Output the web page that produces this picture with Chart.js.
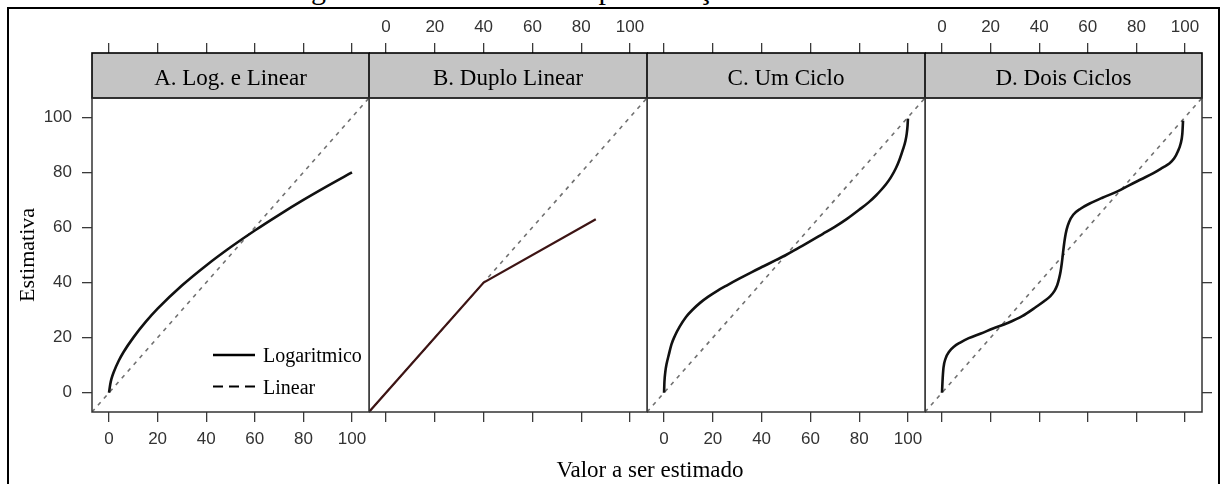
<!DOCTYPE html>
<html>
<head>
<meta charset="utf-8">
<script src="https://cdn.jsdelivr.net/npm/chart.js@4.4.1/dist/chart.umd.min.js"></script>
<style>
  html, body { margin: 0; padding: 0; background: #fff; }
  body { width: 1221px; height: 484px; position: relative; overflow: hidden; }
  .frame { position: absolute; left: 7px; top: 7px; width: 1213px; height: 500px;
           box-sizing: border-box; border: 2px solid #000; border-bottom: none; }
  .caption { position: absolute; left: 0; top: -26px; width: 1221px; text-align: center;
             font: 30px/30px "Liberation Serif", serif; color: #000; white-space: nowrap; }
  .xlab { position: absolute; left: 450px; top: 458px; width: 400px; text-align: center;
          font: 23px/23px "Liberation Serif", serif; color: #000; white-space: nowrap; }
  canvas { position: absolute; top: 12px; }
</style>
</head>
<body>
<div class="caption" id="caption"></div>
<div class="frame"></div>
<canvas id="panelA" width="369" height="472" style="left:10px"></canvas>
<canvas id="panelB" width="288" height="472" style="left:369px"></canvas>
<canvas id="panelC" width="288" height="472" style="left:647px"></canvas>
<canvas id="panelD" width="287" height="472" style="left:925px"></canvas>
<div class="xlab" id="xlab"></div>
<script>
// ---- data ----
const captionText = 'Figura 2 – Modelos de Representação das Estimativas';
const xTitle = 'Valor a ser estimado';
const yTitle = 'Estimativa';
const panelTitles = ['A. Log. e Linear', 'B. Duplo Linear', 'C. Um Ciclo', 'D. Dois Ciclos'];
const legendLabels = ['Logaritmico', 'Linear'];

const xTicks = [0, 20, 40, 60, 80, 100];
const yTicks = [0, 20, 40, 60, 80, 100];
const axisMin = -7;
const axisMax = 107;

// reference line: estimate equals true value
const identityX = [-7, 107];
const identityY = [-7, 107];

// A. logarithmic model
const logX = [0, 0.5, 1, 2, 4, 6, 10, 15, 20, 30, 40, 50, 60, 70, 80, 90, 100];
const logY = [0, 3, 5, 7.6, 11.6, 14.8, 20, 25.6, 30.5, 38.9, 46.2, 52.8, 58.9, 64.6, 70, 75.1, 80];

// B. two-segment linear model
const doubleX = [-7, 40, 86];
const doubleY = [-7, 40, 63];

// C. one-cycle model
const oneCycleX = [0, 0.15, 0.5, 1, 2, 3, 4.5, 6.4, 9, 12, 15, 18, 22, 26, 31, 36, 41, 46, 50,
                   55, 60, 65, 70, 75, 80, 84, 87, 89, 91, 93, 95, 96.5, 98, 99, 99.5, 99.85, 100];
const oneCycleY = [0, 4, 7.5, 10.3, 14, 17.5, 20.8, 24, 27.5, 30.4, 32.8, 34.8, 37.1, 39.1, 41.5, 43.8, 46, 48.2, 50,
                   52.5, 55, 57.6, 60.2, 63.1, 66.4, 69.2, 71.7, 73.6, 75.7, 78.2, 81.4, 84.5, 88.4, 91.5, 94, 97, 99.5];

// D. two-cycle model
const twoCycleX = [0, 0.2, 0.6, 1.5, 3, 5, 7.5, 11, 16, 21, 27, 33, 38.8, 42, 44.5, 46.3, 47.4, 48.2, 48.8, 49.3, 49.7,
                   50.1, 50.6, 51.3, 52.3, 54, 57, 60.6, 66, 72, 77, 82, 87, 91, 93.4, 95.5, 97, 98.2, 98.9, 99.2];
const twoCycleY = [0, 4, 9, 12.5, 15, 16.8, 18.2, 19.8, 21.5, 23.3, 25.3, 27.8, 31.2, 33.2, 35, 37, 39, 41.5, 44, 47, 50,
                   53, 56.2, 59.3, 62, 64.6, 66.8, 68.6, 70.8, 73, 75.3, 77.5, 79.7, 81.8, 83.1, 85, 87.5, 90.4, 94, 98.8];

// ---- drawing ----
document.getElementById('caption').textContent = captionText;
document.getElementById('xlab').textContent = xTitle;

const toPoints = (xs, ys) => xs.map((x, i) => ({ x, y: ys[i] }));
const tickFont = { family: 'Liberation Sans', size: 17 };
const tickColor = '#333';
const gridStyle = (len) => ({ drawOnChartArea: false, drawTicks: true, tickLength: len, color: '#3a3a3a', lineWidth: 1.3 });

// grey strip above each panel plus the panel frame
const stripPlugin = {
  id: 'strip',
  afterDraw(chart, args, opts) {
    const { ctx, chartArea: a } = chart;
    const h = 45;
    ctx.save();
    ctx.fillStyle = '#c4c4c4';
    ctx.fillRect(a.left, a.top - h, a.right - a.left, h);
    ctx.strokeStyle = '#000';
    ctx.lineWidth = 1.6;
    ctx.strokeRect(a.left, a.top - h, a.right - a.left, h);
    ctx.fillStyle = '#000';
    ctx.font = '23px "Liberation Serif"';
    ctx.textAlign = 'center';
    ctx.textBaseline = 'alphabetic';
    ctx.fillText(opts.text, (a.left + a.right) / 2, a.top - 13);
    ctx.strokeStyle = '#333';
    ctx.lineWidth = 1.5;
    ctx.strokeRect(a.left, a.top, a.right - a.left, a.bottom - a.top);
    ctx.restore();
  }
};

// key drawn inside panel A
const keyPlugin = {
  id: 'key',
  afterDraw(chart, args, opts) {
    if (!opts.items) return;
    const { ctx, chartArea: a } = chart;
    ctx.save();
    ctx.font = '20px "Liberation Serif"';
    ctx.fillStyle = '#000';
    ctx.textAlign = 'left';
    ctx.textBaseline = 'alphabetic';
    opts.items.forEach((it, i) => {
      const yLine = a.top + 257 + i * 31.5;
      ctx.beginPath();
      ctx.strokeStyle = '#000';
      ctx.lineWidth = it.width;
      ctx.setLineDash(it.dash);
      ctx.moveTo(a.left + 121, yLine);
      ctx.lineTo(a.left + 163, yLine);
      ctx.stroke();
      ctx.setLineDash([]);
      ctx.fillText(it.text, a.left + 171, yLine + 7);
    });
    ctx.restore();
  }
};

function makePanel(id, idx, curveX, curveY, curveColor, curveWidth, opt) {
  const leftAxis = !!opt.leftAxis, rightAxis = !!opt.rightAxis;
  const fixedTicks = (list) => (s) => { s.ticks = list.map(v => ({ value: v })); };
  const curve = { label: idx === 0 ? legendLabels[0] : panelTitles[idx], data: toPoints(curveX, curveY),
                  showLine: true, pointRadius: 0, borderColor: curveColor, borderWidth: curveWidth, order: 0 };
  if (opt.straight) { curve.tension = 0; } else { curve.cubicInterpolationMode = 'monotone'; }
  return new Chart(document.getElementById(id), {
    type: 'scatter',
    data: {
      datasets: [
        curve,
        { label: legendLabels[1], data: toPoints(identityX, identityY),
          showLine: true, pointRadius: 0, borderColor: '#707070', borderWidth: 1.6,
          borderDash: [4, 5], tension: 0, order: 1 }
      ]
    },
    options: {
      responsive: false,
      devicePixelRatio: 1,
      animation: false,
      events: [],
      layout: { padding: { left: 0, top: 0, bottom: 0, right: rightAxis ? 0 : 10 } },
      plugins: {
        legend: { display: false },
        tooltip: { enabled: false },
        strip: { text: panelTitles[idx] },
        key: { items: opt.key || null }
      },
      scales: {
        x: {
          type: 'linear', position: 'bottom', min: axisMin, max: axisMax,
          afterBuildTicks: fixedTicks(xTicks),
          afterFit: (s) => { s.height = 72; },
          grid: gridStyle(10),
          border: { display: false },
          ticks: { display: !!opt.bottomLabels, autoSkip: false, maxRotation: 0, padding: 7, font: tickFont, color: tickColor }
        },
        xTop: {
          type: 'linear', axis: 'x', position: 'top', min: axisMin, max: axisMax,
          afterBuildTicks: fixedTicks(xTicks),
          afterFit: (s) => { s.height = 86; },
          grid: gridStyle(55),
          border: { display: false },
          ticks: { display: !!opt.topLabels, autoSkip: false, maxRotation: 0, padding: 5, font: tickFont, color: tickColor }
        },
        y: {
          type: 'linear', position: rightAxis ? 'right' : 'left', min: axisMin, max: axisMax,
          display: leftAxis || rightAxis,
          afterBuildTicks: fixedTicks(yTicks),
          afterFit: (s) => { s.width = leftAxis ? 82 : (rightAxis ? 10 : 0); },
          grid: gridStyle(10),
          border: { display: false },
          ticks: { display: leftAxis, autoSkip: false, padding: 10, font: tickFont, color: tickColor },
          title: { display: leftAxis, text: yTitle, color: '#000',
                   font: { family: 'Liberation Serif', size: 22 }, padding: { top: 5, bottom: 0 } }
        }
      }
    },
    plugins: [stripPlugin, keyPlugin]
  });
}

makePanel('panelA', 0, logX, logY, '#111', 2.6, {
  leftAxis: true, bottomLabels: true,
  key: [
    { text: legendLabels[0], dash: [], width: 2.4 },
    { text: legendLabels[1], dash: [10, 6], width: 2 }
  ]
});
makePanel('panelB', 1, doubleX, doubleY, '#3d1414', 2.2, { topLabels: true, straight: true });
makePanel('panelC', 2, oneCycleX, oneCycleY, '#111', 2.6, { bottomLabels: true });
makePanel('panelD', 3, twoCycleX, twoCycleY, '#111', 2.6, { topLabels: true, rightAxis: true });
</script>
</body>
</html>
